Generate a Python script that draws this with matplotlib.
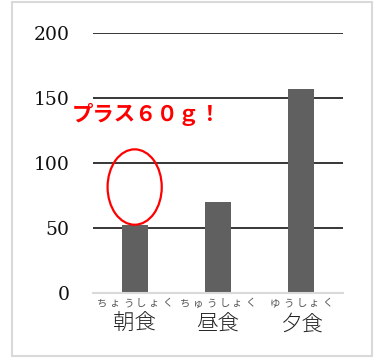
import matplotlib
matplotlib.use("Agg")
import matplotlib.pyplot as plt
from matplotlib.patches import Ellipse, Rectangle

categories = ["朝食", "昼食", "夕食"]
ruby = ["ちょうしょく", "ちゅうしょく", "ゆうしょく"]
values = [52, 70, 157]
yticks = [0, 50, 100, 150, 200]
note = "プラス６０ｇ！"
ellipse_center = (0, 81.5)
ellipse_size = (0.65, 58)

fig = plt.figure(figsize=(3.78, 3.60), dpi=100)
fig.patch.set_facecolor("white")
fig.patches.append(Rectangle((12/378, 4/360), 360/378, 354/360, transform=fig.transFigure,
                             facecolor="none", edgecolor="#d9d9d9", lw=1.5))

ax = fig.add_axes([93/378, (360-293)/360, 250/378, 260/360])
x = list(range(len(categories)))
for v in yticks[1:]:
    ax.axhline(v, color="black", lw=1.1, zorder=1)
ax.bar(x, values, width=0.31, color="#606060", zorder=2)
ax.set_xlim(-0.5, 2.5)
ax.set_ylim(0, 200)
ax.set_yticks(yticks)
ax.set_yticklabels([str(v) for v in yticks], family="DejaVu Serif", fontsize=13.5, color="#111111")
ax.tick_params(axis="y", length=0, pad=17)
ax.set_xticks(x)
ax.set_xticklabels([""] * 3)
ax.tick_params(axis="x", length=0)
for s in ["left", "right", "top"]:
    ax.spines[s].set_visible(False)
ax.spines["bottom"].set_color("#d9d9d9")
ax.spines["bottom"].set_linewidth(1.5)

pitch = 9.4
for i in x:
    chars = ruby[i]
    n = len(chars)
    for k, ch in enumerate(chars):
        ax.annotate(ch, xy=(i, 0), xycoords=("data", "axes fraction"),
                    xytext=((k - (n - 1) / 2) * pitch, -7.5),
                    textcoords="offset points", ha="center", va="center", fontsize=7.5,
                    family="Noto Sans CJK JP", color="#555555")
    ax.annotate(categories[i], xy=(i, 0), xycoords=("data", "axes fraction"), xytext=(0, -22.5),
                textcoords="offset points", ha="center", va="center", fontsize=15.5,
                family="Noto Sans CJK JP", fontweight="light", color="#222222")

ax.add_patch(Ellipse(ellipse_center, ellipse_size[0], ellipse_size[1], facecolor="none",
                     edgecolor="red", lw=1.6, zorder=3))
ax.text(-0.75, 137, note, color="red", fontsize=15.4, fontweight="bold",
        family="Noto Sans CJK JP", ha="left", va="center", clip_on=False, zorder=4)

fig.savefig("out.png", dpi=100)
